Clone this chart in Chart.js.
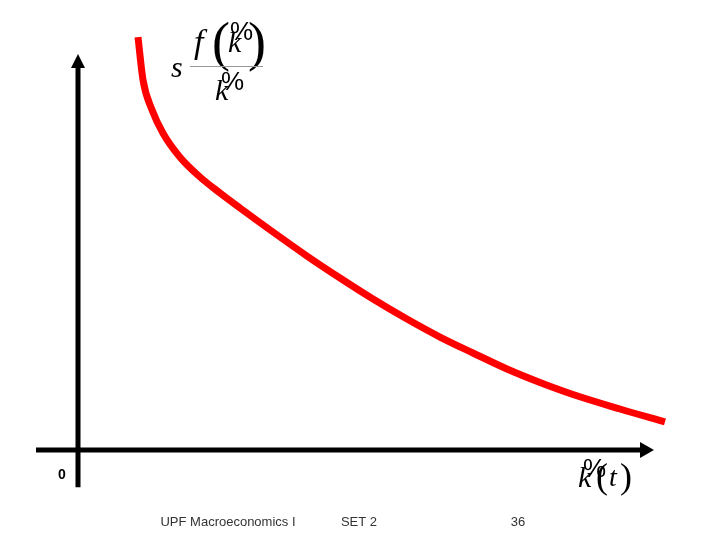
<!DOCTYPE html>
<html>
<head>
<meta charset="utf-8">
<script src="https://cdn.jsdelivr.net/npm/chart.js@4"></script>
<style>
  html, body { margin: 0; padding: 0; background: #fff; }
  #wrap { width: 720px; height: 540px; }
</style>
</head>
<body>
<div id="wrap"><canvas id="curve"></canvas></div>
<script>
// capital per effective worker (k~) and growth rate s f(k~)/k~
const kValues = [1.0, 1.083, 1.233, 1.417, 1.70, 2.033, 2.367, 2.70, 3.25, 3.817, 4.367, 4.917, 5.483, 6.033, 6.583, 7.15, 7.70, 8.25, 9.033, 9.783];
const growthValues = [6.88, 6.17, 5.67, 5.28, 4.88, 4.55, 4.283, 4.033, 3.633, 3.233, 2.867, 2.517, 2.183, 1.883, 1.617, 1.35, 1.125, 0.925, 0.683, 0.467];
const footerLabels = ["UPF Macroeconomics I", "SET 2", "36"];

const points = kValues.map((k, i) => ({ x: k, y: growthValues[i] }));

// axes with arrows and the math labels
const drawAxes = {
	id: "drawAxes",
	afterDatasetsDraw(chart) {
		const c = chart.ctx;
		const xs = chart.scales.x;
		const ys = chart.scales.y;
		const x0 = xs.getPixelForValue(0);
		const y0 = ys.getPixelForValue(0);
		const yTop = ys.getPixelForValue(6.6);
		const yBot = ys.getPixelForValue(-0.62);
		const xLeft = xs.getPixelForValue(-0.7);
		const xRight = xs.getPixelForValue(9.6);

		c.save();
		c.strokeStyle = "#000";
		c.fillStyle = "#000";
		c.lineWidth = 5;
		c.beginPath();
		c.moveTo(x0, yBot);
		c.lineTo(x0, yTop + 12);
		c.moveTo(xLeft, y0);
		c.lineTo(xRight - 12, y0);
		c.stroke();

		// arrow heads
		c.beginPath();
		c.moveTo(x0, yTop);
		c.lineTo(x0 - 7, yTop + 14);
		c.lineTo(x0 + 7, yTop + 14);
		c.closePath();
		c.fill();
		c.beginPath();
		c.moveTo(xRight, y0);
		c.lineTo(xRight - 14, y0 - 8);
		c.lineTo(xRight - 14, y0 + 8);
		c.closePath();
		c.fill();

		// origin label
		c.font = "bold 14px 'Liberation Sans'";
		c.textAlign = "left";
		c.textBaseline = "alphabetic";
		c.fillText("0", 58, 479);

		// s f(k~)/k~
		c.font = "italic 30px 'Liberation Serif'";
		c.fillText("s", 171, 77);
		c.font = "italic 34px 'Liberation Serif'";
		c.fillText("f", 194, 53);
		c.font = "54px 'Liberation Serif'";
		c.fillText("(", 212, 60);
		c.fillText(")", 248, 60);
		c.font = "italic 30px 'Liberation Serif'";
		c.fillText("k", 228, 52);
		c.font = "26px 'Liberation Sans'";
		c.fillText("%", 230, 40);
		c.strokeStyle = "#999";
		c.lineWidth = 1;
		c.beginPath();
		c.moveTo(190, 66.5);
		c.lineTo(263, 66.5);
		c.stroke();
		c.font = "italic 30px 'Liberation Serif'";
		c.fillText("k", 215, 100);
		c.font = "26px 'Liberation Sans'";
		c.fillText("%", 221, 90);

		// k~(t)
		c.font = "italic 30px 'Liberation Serif'";
		c.fillText("k", 578, 487);
		c.font = "26px 'Liberation Sans'";
		c.fillText("%", 583, 477);
		c.font = "36px 'Liberation Serif'";
		c.fillText("(", 596, 488);
		c.fillText(")", 620, 488);
		c.font = "italic 28px 'Liberation Serif'";
		c.fillText("t", 609, 486);

		// footer
		c.fillStyle = "#333";
		c.font = "13px 'Liberation Sans'";
		c.textAlign = "center";
		c.textBaseline = "middle";
		c.fillText(footerLabels[0], 228, 522);
		c.fillText(footerLabels[1], 359, 522);
		c.fillText(footerLabels[2], 518, 522);
		c.restore();
	},
};

new Chart(document.getElementById("curve"), {
	type: "line",
	data: {
		datasets: [
			{
				data: points,
				borderColor: "#ff0000",
				borderWidth: 7,
				pointRadius: 0,
				cubicInterpolationMode: "monotone",
				fill: false,
			},
		],
	},
	options: {
		responsive: true,
		maintainAspectRatio: false,
		animation: false,
		layout: { padding: 0 },
		plugins: {
			legend: { display: false },
			tooltip: { enabled: false },
		},
		scales: {
			x: { type: "linear", min: -1.3, max: 10.7, display: false },
			y: { type: "linear", min: -1.5, max: 7.5, display: false },
		},
	},
	plugins: [drawAxes],
});
</script>
</body>
</html>
